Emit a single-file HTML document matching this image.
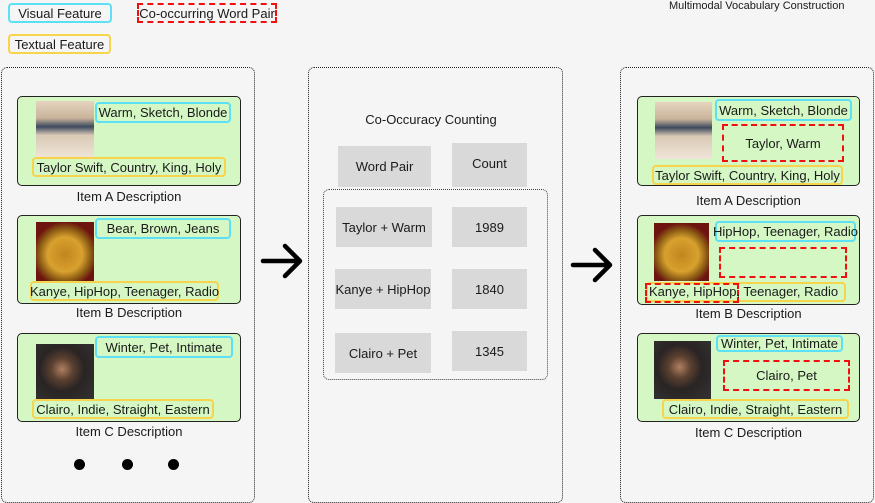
<!DOCTYPE html>
<html><head><meta charset="utf-8"><style>
body{margin:0;width:875px;height:503px;background:#f5f5f5;position:relative;overflow:hidden;font-family:"Liberation Sans",sans-serif;color:#1a1a1a}
div{position:absolute;box-sizing:border-box}
.c{display:flex;align-items:center;justify-content:center;font-size:13px;white-space:nowrap}
.panel{border:1px dotted #222;border-radius:6px}
.item{background:#d4f7c4;border:1px solid #222;border-radius:5px}
.cy{border:2px solid #5ce0f5;border-radius:4px}
.ye{border:2px solid #f8d34c;border-radius:4px}
.rd{border:2px dashed #f01010}
.g{background:#d9d9d9}
.lbl{font-size:13px;text-align:center}
.dot{width:11px;height:11px;border-radius:50%;background:#000}
.t{background:linear-gradient(#e6d4c0 0%,#c9b39a 30%,#3c4a5e 45%,#d9c9b5 60%,#efe5d8 100%)}
.k{background:radial-gradient(circle at 50% 55%,#c2851f 0%,#d8a12e 40%,#8a5a14 60%,#6e1410 75%)}
.cl{background:radial-gradient(circle at 45% 45%,#b08060 0%,#5a4030 25%,#2a2424 50%,#333 100%)}
</style></head><body>
<div class="c cy" style="left:8px;top:3px;width:104px;height:20px">Visual Feature</div>
<div class="c ye" style="left:8px;top:34px;width:103px;height:20px">Textual Feature</div>
<div class="c rd" style="left:137px;top:3px;width:140px;height:20px">Co-occurring Word Pair</div>
<div style="left:669px;top:0px;font-size:11px">Multimodal Vocabulary Construction</div>

<div class="panel" style="left:1px;top:67px;width:254px;height:436px"></div>
<div class="panel" style="left:308px;top:67px;width:255px;height:436px"></div>
<div class="panel" style="left:620px;top:67px;width:254px;height:436px"></div>

<div class="item" style="left:17px;top:96px;width:224px;height:90px"></div>
<div class="t" style="left:36px;top:101px;width:58px;height:57px"></div>
<div class="c cy" style="left:95px;top:102px;width:136px;height:21px">Warm, Sketch, Blonde</div>
<div class="c ye" style="left:32px;top:157px;width:194px;height:20px">Taylor Swift, Country, King, Holy</div>
<div class="lbl" style="left:17px;top:189px;width:224px">Item A Description</div>

<div class="item" style="left:17px;top:215px;width:224px;height:89px"></div>
<div class="k" style="left:36px;top:222px;width:58px;height:59px"></div>
<div class="c cy" style="left:95px;top:218px;width:136px;height:21px">Bear, Brown, Jeans</div>
<div class="c ye" style="left:30px;top:281px;width:189px;height:20px">Kanye, HipHop, Teenager, Radio</div>
<div class="lbl" style="left:17px;top:305px;width:224px">Item B Description</div>

<div class="item" style="left:17px;top:333px;width:224px;height:89px"></div>
<div class="cl" style="left:36px;top:344px;width:58px;height:56px"></div>
<div class="c cy" style="left:95px;top:336px;width:138px;height:22px">Winter, Pet, Intimate</div>
<div class="c ye" style="left:32px;top:399px;width:182px;height:20px">Clairo, Indie, Straight, Eastern</div>
<div class="lbl" style="left:17px;top:424px;width:224px">Item C Description</div>

<div class="dot" style="left:74px;top:459px"></div>
<div class="dot" style="left:122px;top:459px"></div>
<div class="dot" style="left:168px;top:459px"></div>

<div class="lbl" style="left:308px;top:112px;width:246px">Co-Occuracy Counting</div>
<div class="c g" style="left:338px;top:146px;width:93px;height:41px">Word Pair</div>
<div class="c g" style="left:452px;top:143px;width:75px;height:44px;padding-bottom:4px">Count</div>
<div style="left:323px;top:189px;width:225px;height:191px;border:1px dotted #444;border-radius:6px"></div>
<div class="c g" style="left:336px;top:207px;width:96px;height:40px">Taylor + Warm</div>
<div class="c g" style="left:452px;top:207px;width:75px;height:40px">1989</div>
<div class="c g" style="left:335px;top:269px;width:96px;height:40px">Kanye + HipHop</div>
<div class="c g" style="left:452px;top:269px;width:75px;height:40px">1840</div>
<div class="c g" style="left:335px;top:333px;width:96px;height:40px">Clairo + Pet</div>
<div class="c g" style="left:452px;top:331px;width:75px;height:40px">1345</div>

<svg style="position:absolute;left:260px;top:240px" width="46" height="42"><path d="M3 21H40M25 6L40 21L25 36" stroke="#000" stroke-width="4.5" fill="none" stroke-linecap="round" stroke-linejoin="round"/></svg>
<svg style="position:absolute;left:570px;top:244px" width="46" height="42"><path d="M3 21H40M25 6L40 21L25 36" stroke="#000" stroke-width="4.5" fill="none" stroke-linecap="round" stroke-linejoin="round"/></svg>

<div class="item" style="left:637px;top:96px;width:223px;height:90px"></div>
<div class="t" style="left:655px;top:102px;width:57px;height:57px"></div>
<div class="c cy" style="left:715px;top:99px;width:137px;height:22px">Warm, Sketch, Blonde</div>
<div class="c rd" style="left:722px;top:124px;width:122px;height:38px">Taylor, Warm</div>
<div class="c ye" style="left:652px;top:165px;width:191px;height:20px">Taylor Swift, Country, King, Holy</div>
<div class="lbl" style="left:637px;top:193px;width:223px">Item A Description</div>

<div class="item" style="left:637px;top:215px;width:223px;height:90px"></div>
<div class="k" style="left:654px;top:223px;width:55px;height:58px"></div>
<div class="c cy" style="left:715px;top:221px;width:141px;height:21px">HipHop, Teenager, Radio</div>
<div class="c rd" style="left:719px;top:247px;width:128px;height:31px"></div>
<div class="ye" style="left:646px;top:282px;width:200px;height:20px"></div>
<div class="rd" style="left:645px;top:283px;width:94px;height:20px"></div>
<div style="left:649px;top:284px;font-size:13px;white-space:nowrap">Kanye, HipHop, Teenager, Radio</div>
<div class="lbl" style="left:637px;top:306px;width:223px">Item B Description</div>

<div class="item" style="left:637px;top:333px;width:223px;height:89px"></div>
<div class="cl" style="left:654px;top:341px;width:57px;height:58px"></div>
<div class="c cy" style="left:716px;top:335px;width:127px;height:17px">Winter, Pet, Intimate</div>
<div class="c rd" style="left:723px;top:360px;width:127px;height:31px">Clairo, Pet</div>
<div class="c ye" style="left:662px;top:399px;width:187px;height:20px">Clairo, Indie, Straight, Eastern</div>
<div class="lbl" style="left:637px;top:425px;width:223px">Item C Description</div>
</body></html>
